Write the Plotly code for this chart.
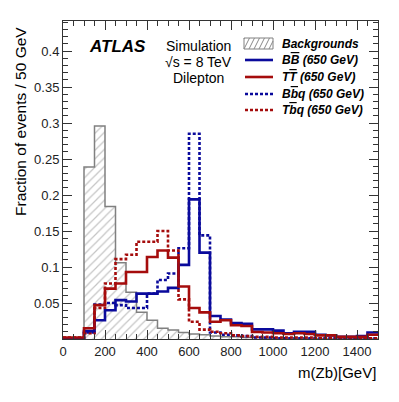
import numpy as np
import plotly.graph_objects as go

# bin edges (50 GeV bins)
binEdges = list(range(0, 1550, 50))

backgrounds = [0, 0, 0.239, 0.296, 0.184, 0.106, 0.065, 0.037, 0.026, 0.015,
               0.0125, 0.009, 0.007, 0.006, 0.004, 0.003, 0.003, 0.002, 0.002, 0.001,
               0.001, 0.001, 0.001, 0.0005, 0.0005, 0, 0, 0, 0, 0]
bbSolid = [0, 0, 0.011, 0.026, 0.040, 0.054, 0.052, 0.063, 0.063, 0.066,
           0.071, 0.103, 0.194, 0.120, 0.032, 0.027, 0.022, 0.021, 0.0134, 0.0134,
           0.0116, 0.008, 0.010, 0.010, 0.006, 0.005, 0.003, 0.003, 0.004, 0.009]
ttSolid = [0.002, 0.002, 0.015, 0.047, 0.070, 0.077, 0.093, 0.093, 0.114, 0.123,
           0.113, 0.073, 0.043, 0.037, 0.024, 0.026, 0.019, 0.018, 0.0097, 0.009,
           0.008, 0.007, 0.008, 0.007, 0.005, 0.005, 0.003, 0.003, 0.003, 0.006]
bbqDotted = [0, 0, 0.009, 0.048, 0.050, 0.047, 0.043, 0.043, 0.063, 0.082,
             0.091, 0.126, 0.285, 0.144, 0.009, 0.006, 0.005, 0.004, 0.002, 0.002,
             0.001, 0.001, 0.001, 0.001, 0.001, 0.001, 0.001, 0.001, 0.001, 0.001]
tbqDotted = [0.002, 0.002, 0.008, 0.043, 0.077, 0.111, 0.117, 0.135, 0.135, 0.150,
             0.123, 0.055, 0.024, 0.013, 0.010, 0.008, 0.005, 0.004, 0.003, 0.003,
             0.002, 0.002, 0.002, 0.002, 0.001, 0.001, 0.001, 0.001, 0.001, 0.001]

xTicks = [0, 200, 400, 600, 800, 1000, 1200, 1400]
yTicks = [0.05, 0.1, 0.15, 0.2, 0.25, 0.3, 0.35, 0.4]

BLUE = "#0a0a9c"
RED = "#a50c0c"
GREY = "#808080"
FONT = "Liberation Sans"

W, H = 399, 402
L, R, T, B = 63, 21, 21, 63


def stepXY(values):
    # repeat last value so the hv step reaches the final bin edge
    return binEdges, list(values) + [values[-1]]


def px(x):
    return (x - L) / (W - L - R)


def py(y):
    return (H - B - y) / (H - T - B)


fig = go.Figure()

x, y = stepXY(backgrounds)
fig.add_trace(go.Scatter(x=x, y=y, mode="lines", line_shape="hv",
                         line=dict(color=GREY, width=1.5),
                         fill="tozeroy", fillcolor="rgba(0,0,0,0)",
                         fillpattern=dict(shape="/", fgcolor="#8a8a8a", bgcolor="white",
                                          size=6, solidity=0.2),
                         showlegend=False))

for vals, color, dash in [(bbqDotted, BLUE, "3px,2px"), (tbqDotted, RED, "3px,2px"),
                          (bbSolid, BLUE, "solid"), (ttSolid, RED, "solid")]:
    x, y = stepXY(vals)
    fig.add_trace(go.Scatter(x=x, y=y, mode="lines", line_shape="hv",
                             line=dict(color=color, width=2.6, dash=dash),
                             showlegend=False))

axisStyle = dict(showline=True, linecolor="#333", linewidth=1, mirror="ticks",
                 ticks="inside", tickcolor="#333", showgrid=False, zeroline=False,
                 tickfont=dict(family=FONT, size=13, color="#222"))

fig.update_xaxes(range=[0, 1500], tickvals=xTicks, ticklen=9,
                 minor=dict(dtick=50, ticklen=5, ticks="inside", tickcolor="#333"),
                 **axisStyle)
fig.update_yaxes(range=[0, 0.4417], tickvals=yTicks, ticklen=9,
                 minor=dict(dtick=0.01, ticklen=5, ticks="inside", tickcolor="#333"),
                 **axisStyle)

annotations = [
    dict(x=px(117), y=py(47), text="<b><i>ATLAS</i></b>", font=dict(size=17)),
    dict(x=px(198), y=py(46), text="Simulation", font=dict(size=14)),
    dict(x=px(198), y=py(62), text="√s = 8 TeV", font=dict(size=14)),
    dict(x=px(198), y=py(78), text="Dilepton", font=dict(size=14)),
    dict(x=px(378), y=py(372), text="m(Zb)[GeV]", font=dict(size=15), xanchor="right"),
    dict(x=px(20), y=py(122), text="Fraction of events / 50 GeV", font=dict(size=15.5),
         textangle=-90),
]

ov = '<span style="text-decoration:overline">%s</span>'
legendItems = [
    ("Backgrounds", None, None, 44),
    ("B" + ov % "B" + " (650 GeV)", BLUE, "solid", 60),
    ("T" + ov % "T" + " (650 GeV)", RED, "solid", 77),
    ("B" + ov % "b" + "q (650 GeV)", BLUE, "dot", 94),
    ("T" + ov % "b" + "q (650 GeV)", RED, "dot", 110),
]
shapes = []
for label, color, dash, yy in legendItems:
    annotations.append(dict(x=px(280), y=py(yy), text="<b><i>%s</i></b>" % label,
                            font=dict(size=12), xanchor="left"))
    if color is None:
        shapes.append(dict(type="rect", xref="paper", yref="paper",
                           x0=px(244), x1=px(273), y0=py(49), y1=py(38),
                           line=dict(color=GREY, width=1), fillcolor="white"))
        for k in range(7):
            x0 = 244 + k * 5 - 5
            xa, xb = max(x0, 244), min(x0 + 5.5, 273)
            shapes.append(dict(type="line", xref="paper", yref="paper",
                               x0=px(xa), y0=py(49 - (xa - x0) * 2),
                               x1=px(xb), y1=py(38 + (x0 + 5.5 - xb) * 2),
                               line=dict(color="#8a8a8a", width=1)))
    else:
        shapes.append(dict(type="line", xref="paper", yref="paper",
                           x0=px(245), x1=px(273), y0=py(yy), y1=py(yy),
                           line=dict(color=color, width=2.6,
                                     dash="solid" if dash == "solid" else "3px,2px")))

for a in annotations:
    a.setdefault("xref", "paper")
    a.setdefault("yref", "paper")
    a.setdefault("showarrow", False)
    a.setdefault("xanchor", "center")
    a.setdefault("yanchor", "middle")
    a["font"] = dict(family=FONT, color="black", **a["font"])

fig.update_layout(width=W, height=H, margin=dict(l=L, r=R, t=T, b=B),
                  plot_bgcolor="white", paper_bgcolor="white",
                  annotations=annotations, shapes=shapes, showlegend=False)

fig.write_html("out.html", config={"displayModeBar": False},
               post_script="document.body.style.margin='0';")
